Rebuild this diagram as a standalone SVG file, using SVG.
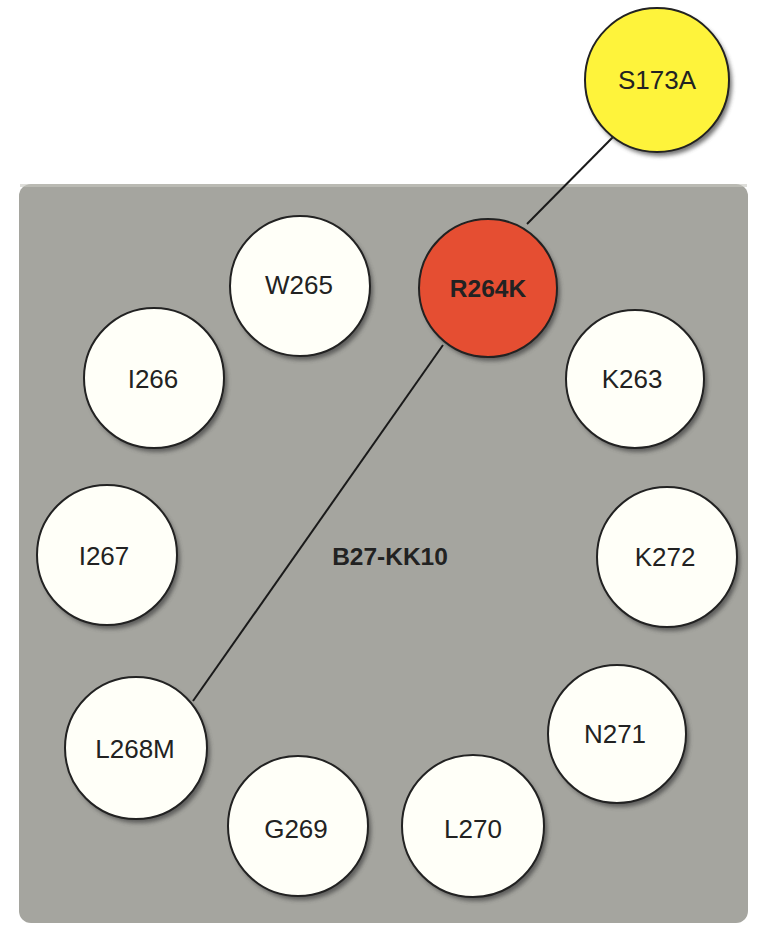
<svg xmlns="http://www.w3.org/2000/svg" width="762" height="926" viewBox="0 0 762 926">
<defs>
<filter id="sh" x="-20%" y="-20%" width="140%" height="140%">
<feGaussianBlur stdDeviation="2"/>
</filter>
<style>
.node circle.b{stroke:#222;stroke-width:2}
.w{fill:#fffff8}
.s{fill:#444;opacity:0.75;filter:url(#sh)}
text{font-family:"Liberation Sans",Arial,sans-serif;font-size:26px;fill:#222;text-anchor:middle;dominant-baseline:central}
.bold{font-weight:bold;font-size:24.5px}
.edge{stroke:#1a1a1a;stroke-width:2;fill:none}
</style>
</defs>
<rect x="19" y="184" width="729" height="739" rx="12" fill="#a5a59f"/>
<rect x="20" y="184" width="727" height="3" fill="#c8c8c2" opacity="0.6"/>
<g id="connectors">
<line class="edge" x1="614" y1="136" x2="527" y2="224"/>
<line class="edge" x1="443" y1="345" x2="193" y2="701"/>
</g>
<g id="S173A" class="node"><circle class="s" cx="660" cy="84" r="72"/><circle class="b" cx="657" cy="80" r="72" fill="#fef33b"/><text x="657" y="80">S173A</text></g>
<g id="W265" class="node"><circle class="s" cx="303" cy="290" r="70"/><circle class="b w" cx="300" cy="286" r="70"/><text x="299" y="285">W265</text></g>
<g id="R264K" class="node"><circle class="s" cx="491" cy="292" r="69"/><circle class="b" cx="488" cy="288" r="69" fill="#e54e32"/><text class="bold" x="488" y="288">R264K</text></g>
<g id="I266" class="node"><circle class="s" cx="157" cy="382" r="70"/><circle class="b w" cx="154" cy="378" r="70"/><text x="153" y="379">I266</text></g>
<g id="K263" class="node"><circle class="s" cx="638" cy="383" r="69"/><circle class="b w" cx="635" cy="379" r="69"/><text x="632" y="379">K263</text></g>
<g id="I267" class="node"><circle class="s" cx="110" cy="559" r="70"/><circle class="b w" cx="107" cy="555" r="70"/><text x="104" y="556">I267</text></g>
<g id="K272" class="node"><circle class="s" cx="670" cy="561" r="70"/><circle class="b w" cx="667" cy="557" r="70"/><text x="665" y="557">K272</text></g>
<g id="L268M" class="node"><circle class="s" cx="139" cy="752" r="71"/><circle class="b w" cx="136" cy="748" r="71"/><text x="135" y="749">L268M</text></g>
<g id="N271" class="node"><circle class="s" cx="620" cy="738" r="69"/><circle class="b w" cx="617" cy="734" r="69"/><text x="615" y="734">N271</text></g>
<g id="G269" class="node"><circle class="s" cx="301" cy="830" r="70"/><circle class="b w" cx="298" cy="826" r="70"/><text x="296" y="829">G269</text></g>
<g id="L270" class="node"><circle class="s" cx="476" cy="830" r="71"/><circle class="b w" cx="473" cy="826" r="71"/><text x="473" y="829">L270</text></g>
<g id="B27-KK10"><text class="bold" x="390" y="556">B27-KK10</text></g>
</svg>
